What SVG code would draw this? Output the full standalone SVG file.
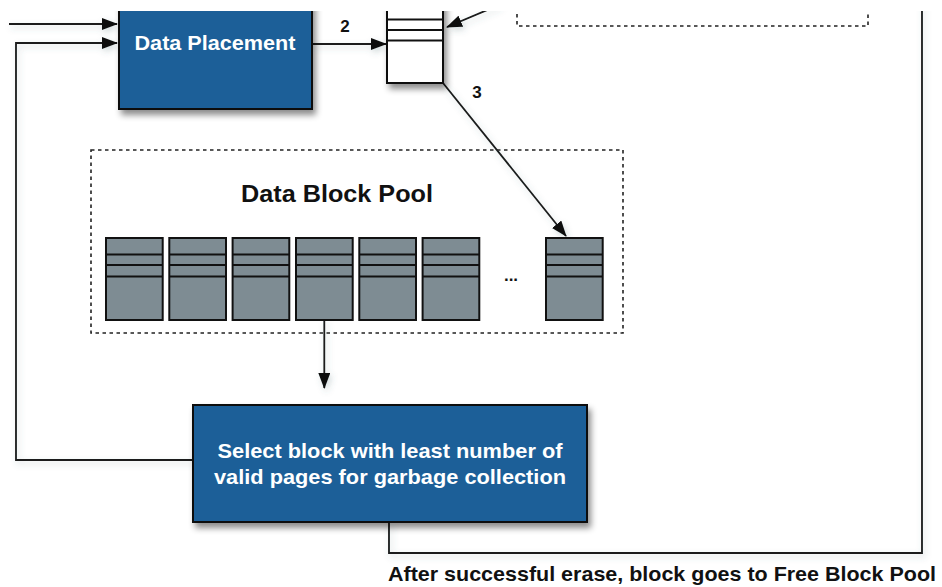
<svg xmlns="http://www.w3.org/2000/svg" width="942" height="587" viewBox="0 0 942 587">
  <style>
    .proc { fill: #1c5e98; stroke: #111; stroke-width: 2; }
    .queue { fill: #fff; stroke: #111; stroke-width: 2; }
    .blk rect { fill: #7e8c93; stroke: #111; stroke-width: 2; }
    .blk line { stroke: #111; stroke-width: 2; }
    .pool { fill: none; stroke: #222; stroke-width: 1.6; stroke-dasharray: 3.5 3.5; }
    .wire { fill: none; stroke: #1a1a1a; stroke-width: 1.8; }
    .lbl { font-family: "Liberation Sans", Arial, sans-serif; font-weight: bold; }
    .wt { fill: #fff; }
    .bk { fill: #111; }
  </style>
  <defs>
    <clipPath id="view">
      <rect x="0" y="11" width="942" height="576"/>
    </clipPath>
    <filter id="shadow" x="-20%" y="-20%" width="150%" height="160%">
      <feDropShadow dx="3" dy="5" stdDeviation="3" flood-color="#000" flood-opacity="0.45"/>
    </filter>
    <filter id="soft" x="-10%" y="-10%" width="130%" height="130%">
      <feDropShadow dx="2" dy="3" stdDeviation="3" flood-color="#4a6a70" flood-opacity="0.25"/>
    </filter>
    <marker id="arrow" viewBox="0 0 16 12" refX="15" refY="6" markerWidth="16" markerHeight="12" markerUnits="userSpaceOnUse" orient="auto">
      <path d="M0,0 L16,6 L0,12 Z" fill="#111"/>
    </marker>
  </defs>

  <rect width="942" height="587" fill="#fff"/>

  <g clip-path="url(#view)">
    <!-- connectors -->
    <g id="connectors" filter="url(#soft)">
      <line class="wire" x1="9" y1="24" x2="117" y2="24" marker-end="url(#arrow)"/>
      <polyline class="wire" points="193,460 16,460 16,43 117,43" marker-end="url(#arrow)"/>
      <line class="wire" x1="312" y1="44" x2="386" y2="44" marker-end="url(#arrow)"/>
      <line class="wire" x1="500" y1="4.7" x2="447" y2="27" marker-end="url(#arrow)"/>
      <line class="wire" x1="443" y1="83" x2="566" y2="236" marker-end="url(#arrow)"/>
      <line class="wire" x1="324.3" y1="320" x2="324.3" y2="388" marker-end="url(#arrow)"/>
      <polyline class="wire" points="389,522 389,553 922,553 922,0" stroke="#2a2a2a"/>
    </g>

    <!-- top-right dashed region (partially shown) -->
    <g id="upper-pool">
      <polyline class="pool" points="517,0 517,26 868,26 868,0"/>
    </g>

    <!-- Data Placement process -->
    <g id="data-placement">
      <rect class="proc" x="119" y="-10" width="193" height="119" filter="url(#shadow)"/>
      <text class="lbl wt" x="215" y="50" font-size="21" text-anchor="middle" textLength="161" lengthAdjust="spacingAndGlyphs">Data Placement</text>
    </g>

    <!-- page queue -->
    <g id="page-queue">
      <rect class="queue" x="387" y="-10" width="56" height="93" filter="url(#shadow)"/>
      <line x1="387" y1="19.5" x2="443" y2="19.5" stroke="#111" stroke-width="2"/>
      <line x1="387" y1="30" x2="443" y2="30" stroke="#111" stroke-width="2"/>
      <line x1="387" y1="40.5" x2="443" y2="40.5" stroke="#111" stroke-width="2"/>
    </g>

    <!-- edge labels -->
    <g id="edge-labels">
      <text class="lbl bk" x="345" y="32" font-size="17" text-anchor="middle">2</text>
      <text class="lbl bk" x="477" y="98" font-size="17" text-anchor="middle">3</text>
    </g>

    <!-- Data Block Pool -->
    <g id="data-block-pool">
      <rect class="pool" x="91" y="150" width="532" height="183"/>
      <text class="lbl bk" x="337" y="202" font-size="24" text-anchor="middle" textLength="192" lengthAdjust="spacingAndGlyphs">Data Block Pool</text>
      <g class="blk" id="block-1" transform="translate(106,238)">
        <rect width="56.7" height="82"/><line x1="0" y1="16.5" x2="56.7" y2="16.5"/><line x1="0" y1="27" x2="56.7" y2="27"/><line x1="0" y1="38.5" x2="56.7" y2="38.5"/>
      </g>
      <g class="blk" id="block-2" transform="translate(169.3,238)">
        <rect width="56.7" height="82"/><line x1="0" y1="16.5" x2="56.7" y2="16.5"/><line x1="0" y1="27" x2="56.7" y2="27"/><line x1="0" y1="38.5" x2="56.7" y2="38.5"/>
      </g>
      <g class="blk" id="block-3" transform="translate(232.6,238)">
        <rect width="56.7" height="82"/><line x1="0" y1="16.5" x2="56.7" y2="16.5"/><line x1="0" y1="27" x2="56.7" y2="27"/><line x1="0" y1="38.5" x2="56.7" y2="38.5"/>
      </g>
      <g class="blk" id="block-4" transform="translate(296,238)">
        <rect width="56.7" height="82"/><line x1="0" y1="16.5" x2="56.7" y2="16.5"/><line x1="0" y1="27" x2="56.7" y2="27"/><line x1="0" y1="38.5" x2="56.7" y2="38.5"/>
      </g>
      <g class="blk" id="block-5" transform="translate(359.3,238)">
        <rect width="56.7" height="82"/><line x1="0" y1="16.5" x2="56.7" y2="16.5"/><line x1="0" y1="27" x2="56.7" y2="27"/><line x1="0" y1="38.5" x2="56.7" y2="38.5"/>
      </g>
      <g class="blk" id="block-6" transform="translate(422.6,238)">
        <rect width="56.7" height="82"/><line x1="0" y1="16.5" x2="56.7" y2="16.5"/><line x1="0" y1="27" x2="56.7" y2="27"/><line x1="0" y1="38.5" x2="56.7" y2="38.5"/>
      </g>
      <text class="lbl bk" x="511" y="281" font-size="17" text-anchor="middle">...</text>
      <g class="blk" id="block-n" transform="translate(546,238)">
        <rect width="56.7" height="82"/><line x1="0" y1="16.5" x2="56.7" y2="16.5"/><line x1="0" y1="27" x2="56.7" y2="27"/><line x1="0" y1="38.5" x2="56.7" y2="38.5"/>
      </g>
    </g>

    <!-- victim selection process -->
    <g id="select-victim">
      <rect class="proc" x="193" y="405" width="394" height="117" filter="url(#shadow)"/>
      <text class="lbl wt" x="390" y="458" font-size="21" text-anchor="middle" textLength="345" lengthAdjust="spacingAndGlyphs">Select block with least number of</text>
      <text class="lbl wt" x="390" y="484" font-size="21" text-anchor="middle" textLength="352" lengthAdjust="spacingAndGlyphs">valid pages for garbage collection</text>
    </g>

    <!-- return path caption -->
    <g id="erase-note">
      <text class="lbl bk" x="388" y="581" font-size="21" textLength="548" lengthAdjust="spacingAndGlyphs">After successful erase, block goes to Free Block Pool</text>
    </g>
  </g>
</svg>
